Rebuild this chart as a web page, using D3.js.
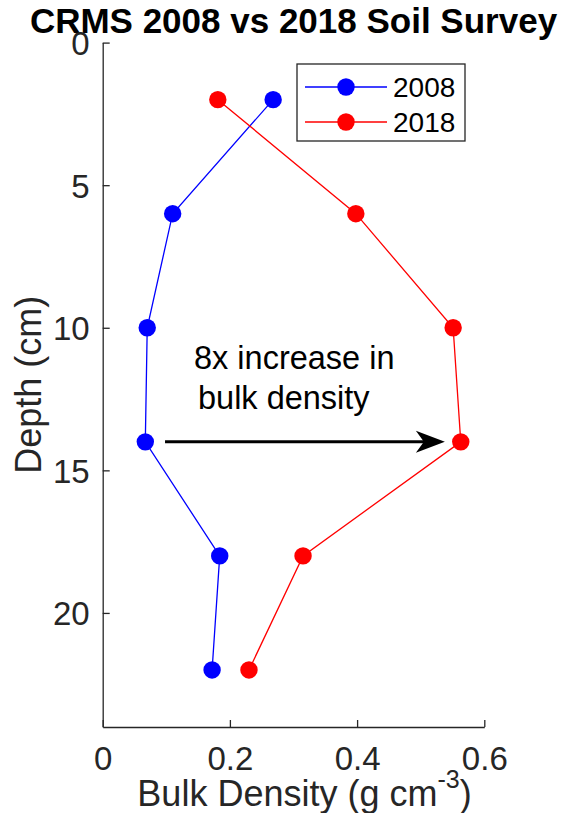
<!DOCTYPE html>
<html>
<head>
<meta charset="utf-8">
<script src="https://cdn.jsdelivr.net/npm/d3@7"></script>
<style>
  html, body { margin: 0; padding: 0; background: #fff; }
  svg { display: block; font-family: "Liberation Sans", Arial, sans-serif; }
</style>
</head>
<body>
<svg id="chart" width="568" height="813"></svg>
<script>
// ---- data ----
const depths = [2, 6, 10, 14, 18, 22];
const density2008 = [0.268, 0.110, 0.070, 0.067, 0.184, 0.172];
const density2018 = [0.181, 0.398, 0.551, 0.563, 0.315, 0.230];
const seriesNames = ["2008", "2018"];
const seriesColors = ["#0000ff", "#ff0000"];
const xTicks = [0, 0.2, 0.4, 0.6];
const xTickLabels = ["0", "0.2", "0.4", "0.6"];
const yTicks = [0, 5, 10, 15, 20];
const yTickLabels = ["0", "5", "10", "15", "20"];
const annotationLines = ["8x increase in", "bulk density"];
const arrowFrom = [0.098, 14];
const arrowTo = [0.538, 14];

// ---- layout ----
const svg = d3.select("#chart");
const pLeft = 102.7, pRight = 484.3, pTop = 42.6, pBottom = 727;
const axisColor = "#262626";
const tickFont = 33, labelFont = 36;

const x = d3.scaleLinear().domain([0, 0.6]).range([pLeft, pRight]);
const y = d3.scaleLinear().domain([0, 24]).range([pTop, pBottom]);

// title
svg.append("text")
  .attr("x", (pLeft + pRight) / 2).attr("y", 33)
  .attr("text-anchor", "middle")
  .attr("font-size", 35).attr("font-weight", "bold")
  .attr("fill", "#000")
  .text("CRMS 2008 vs 2018 Soil Survey");

// axes
const xAxis = d3.axisBottom(x).tickValues(xTicks)
  .tickFormat((d, i) => xTickLabels[i]).tickSizeInner(-7).tickSizeOuter(0).tickPadding(20);
const gx = svg.append("g").attr("transform", `translate(0,${pBottom})`).call(xAxis);

const yAxis = d3.axisLeft(y).tickValues(yTicks)
  .tickFormat((d, i) => yTickLabels[i]).tickSizeInner(-7).tickSizeOuter(0).tickPadding(13);
const gy = svg.append("g").attr("transform", `translate(${pLeft},0)`).call(yAxis);

[gx, gy].forEach(g => {
  g.select(".domain").attr("stroke", axisColor).attr("stroke-width", 1.3);
  g.selectAll(".tick line").attr("stroke", axisColor).attr("stroke-width", 1.3);
  g.selectAll(".tick text").attr("fill", axisColor)
    .attr("font-size", tickFont).attr("font-family", "Liberation Sans, Arial, sans-serif");
});
gy.selectAll(".tick text").attr("dy", "0.36em");
gx.selectAll(".tick text").attr("dy", "0.71em");

// axis labels
const xl = svg.append("text")
  .attr("x", 304.5).attr("y", 806)
  .attr("text-anchor", "middle")
  .attr("font-size", labelFont).attr("fill", axisColor);
xl.append("tspan").text("Bulk Density (g cm");
xl.append("tspan").attr("font-size", 25).attr("dy", -18).text("-3");
xl.append("tspan").attr("dy", 18).text(")");

svg.append("text")
  .attr("transform", `translate(41,${(pTop + pBottom) / 2}) rotate(-90)`)
  .attr("text-anchor", "middle")
  .attr("font-size", labelFont).attr("fill", axisColor)
  .text("Depth (cm)");

// series
const series = [density2008, density2018];
const line = d3.line().x(d => x(d[0])).y(d => y(d[1]));
series.forEach((vals, si) => {
  const pts = vals.map((v, i) => [v, depths[i]]);
  svg.append("path").datum(pts)
    .attr("d", line).attr("fill", "none")
    .attr("stroke", seriesColors[si]).attr("stroke-width", 1.3);
  svg.selectAll(null).data(pts).enter().append("circle")
    .attr("cx", d => x(d[0])).attr("cy", d => y(d[1]))
    .attr("r", 8.7).attr("fill", seriesColors[si]);
});

// annotation text
annotationLines.forEach((t, i) => {
  svg.append("text")
    .attr("x", 194 + i * 4).attr("y", 369 + i * 40)
    .attr("font-size", 32.5).attr("fill", "#000")
    .text(t);
});

// arrow
const ax1 = x(arrowFrom[0]), ay = y(arrowFrom[1]), ax2 = x(arrowTo[0]);
svg.append("line")
  .attr("x1", ax1).attr("y1", ay).attr("x2", ax2 - 12).attr("y2", ay)
  .attr("stroke", "#000").attr("stroke-width", 3);
svg.append("path")
  .attr("d", `M${ax2},${ay} L${ax2 - 29},${ay - 11} L${ax2 - 21},${ay} L${ax2 - 29},${ay + 11} Z`)
  .attr("fill", "#000");

// legend
const lg = svg.append("g");
lg.append("rect").attr("x", 297).attr("y", 64).attr("width", 168).attr("height", 77)
  .attr("fill", "#fff").attr("stroke", axisColor).attr("stroke-width", 1.3);
seriesNames.forEach((name, i) => {
  const cy = 87 + i * 35;
  lg.append("line").attr("x1", 305).attr("x2", 387).attr("y1", cy).attr("y2", cy)
    .attr("stroke", seriesColors[i]).attr("stroke-width", 1.3);
  lg.append("circle").attr("cx", 346).attr("cy", cy).attr("r", 8.7).attr("fill", seriesColors[i]);
  lg.append("text").attr("x", 393).attr("y", cy + 10)
    .attr("font-size", 28).attr("fill", "#000").text(name);
});
</script>
</body>
</html>
